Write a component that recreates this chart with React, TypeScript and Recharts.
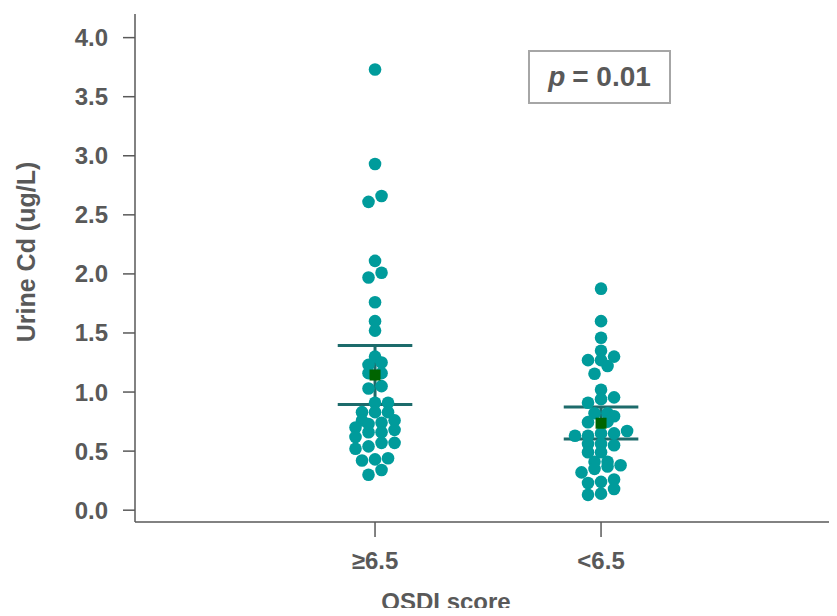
import { ScatterChart, Scatter, XAxis, YAxis, ReferenceLine } from 'recharts';

const groupLabels = ['≥6.5', '<6.5'];
const groupPos = [1, 2];

// [value, horizontal swarm slot]
const highOsdi: [number, number][] = [
  [3.73, 0], [2.93, 0], [2.66, 1], [2.61, -1], [2.11, 0], [2.01, 1], [1.97, -1],
  [1.76, 0], [1.6, 0], [1.52, 0], [1.3, 0], [1.25, 1], [1.23, -1], [1.16, -1],
  [1.16, 1], [1.05, 1], [1.03, -1], [0.91, 0], [0.91, 2], [0.83, -2], [0.83, 0],
  [0.83, 2], [0.76, -2], [0.73, -1], [0.74, 1], [0.76, 3], [0.7, -3], [0.66, -1],
  [0.66, 1], [0.68, 3], [0.62, -3], [0.54, -1], [0.57, 1], [0.57, 3], [0.52, -3],
  [0.42, -2], [0.43, 0], [0.44, 2], [0.3, -1], [0.34, 1],
];

const lowOsdi: [number, number][] = [
  [1.875, 0], [1.6, 0], [1.46, 0], [1.35, 0], [1.27, -2], [1.27, 0], [1.3, 2],
  [1.22, 1], [1.155, -1], [1.02, 0], [0.94, 0], [0.955, 2], [0.91, -2], [0.82, -1],
  [0.82, 1], [0.795, 2], [0.745, -2], [0.75, 1], [0.63, -4], [0.63, -2], [0.65, 0],
  [0.65, 2], [0.67, 4], [0.56, -2], [0.56, 0], [0.55, 2], [0.49, -2], [0.49, 0],
  [0.41, -1], [0.41, 1], [0.32, -3], [0.35, -1], [0.37, 1], [0.38, 3], [0.23, -2],
  [0.24, 0], [0.26, 2], [0.18, 2], [0.13, -2], [0.14, 0],
];

const means = [1.144, 0.736];
const seUpper = [1.395, 0.874];
const seLower = [0.894, 0.603];
const yTicks = [0, 0.5, 1, 1.5, 2, 2.5, 3, 3.5, 4];

const SLOT = 0.0288;
const BAR_HALF = 0.165;

const toPoints = (vals: [number, number][], g: number) =>
  vals.map(([y, s]) => ({ x: groupPos[g] + s * SLOT, y }));

const dots = [...toPoints(highOsdi, 0), ...toPoints(lowOsdi, 1)];
const meanPts = means.map((m, i) => ({ x: groupPos[i], y: m }));

const TEXT = '#595959';
const FONT = '"Liberation Sans", Arial, sans-serif';
const BAR = '#1d6b6b';

const Dot = (p: any) => <circle cx={p.cx} cy={p.cy} r={6.3} fill="#009b9b" />;
const Square = (p: any) => <rect x={p.cx - 5.5} y={p.cy - 5.5} width={11} height={11} fill="#006400" />;

export default function App() {
  return (
    <div style={{ position: 'relative', width: 829, height: 600, fontFamily: FONT }}>
      <ScatterChart width={829} height={600} margin={{ top: 6, right: 0, bottom: 0, left: 0 }}>
        <XAxis
          type="number"
          dataKey="x"
          domain={[-0.062, 3.044]}
          ticks={groupPos}
          tickFormatter={(v: number) => groupLabels[groupPos.indexOf(v)] ?? ''}
          height={86}
          stroke={TEXT}
          strokeWidth={1.5}
          tickSize={15}
          tickMargin={15}
          tick={{ fill: TEXT, fontSize: 24, fontWeight: 700, fontFamily: FONT }}
          allowDataOverflow
        />
        <YAxis
          type="number"
          dataKey="y"
          domain={[-0.1, 4.2]}
          ticks={yTicks}
          tickFormatter={(v: number) => v.toFixed(1)}
          width={127}
          stroke={TEXT}
          strokeWidth={1.5}
          tickSize={12}
          tickMargin={15}
          tick={{ fill: TEXT, fontSize: 24, fontWeight: 700, fontFamily: FONT }}
          allowDataOverflow
        />
        <Scatter data={dots} shape={Dot} isAnimationActive={false} />
        {groupPos.map((g, i) => (
          <ReferenceLine key={'u' + i} segment={[{ x: g - BAR_HALF, y: seUpper[i] }, { x: g + BAR_HALF, y: seUpper[i] }]} stroke={BAR} strokeWidth={3} />
        ))}
        {groupPos.map((g, i) => (
          <ReferenceLine key={'l' + i} segment={[{ x: g - BAR_HALF, y: seLower[i] }, { x: g + BAR_HALF, y: seLower[i] }]} stroke={BAR} strokeWidth={3} />
        ))}
        {groupPos.map((g, i) => (
          <ReferenceLine key={'v' + i} segment={[{ x: g, y: seLower[i] }, { x: g, y: seUpper[i] }]} stroke={BAR} strokeWidth={3} />
        ))}
        <Scatter data={meanPts} shape={Square} isAnimationActive={false} />
      </ScatterChart>
      <div
        style={{
          position: 'absolute', left: 18, top: 244, width: 0, height: 0,
          display: 'flex', alignItems: 'center', justifyContent: 'center',
          transform: 'rotate(-90deg)', color: TEXT, fontSize: 25, fontWeight: 700, whiteSpace: 'nowrap',
        }}
      >
        Urine Cd (ug/L)
      </div>
      <div
        style={{
          position: 'absolute', left: 438, top: 594, width: 0, height: 0,
          display: 'flex', alignItems: 'center', justifyContent: 'center',
          color: TEXT, fontSize: 24, fontWeight: 700, whiteSpace: 'nowrap',
        }}
      >
        OSDI score
      </div>
      <div
        style={{
          position: 'absolute', left: 520, top: 42, width: 143, height: 54, boxSizing: 'border-box',
          border: '2px solid #a6a6a6', background: '#fff',
          display: 'flex', alignItems: 'center', justifyContent: 'center',
          color: TEXT, fontSize: 28, fontWeight: 700,
        }}
      >
        <span style={{ fontStyle: 'italic', marginRight: 7 }}>p</span>= 0.01
      </div>
    </div>
  );
}
